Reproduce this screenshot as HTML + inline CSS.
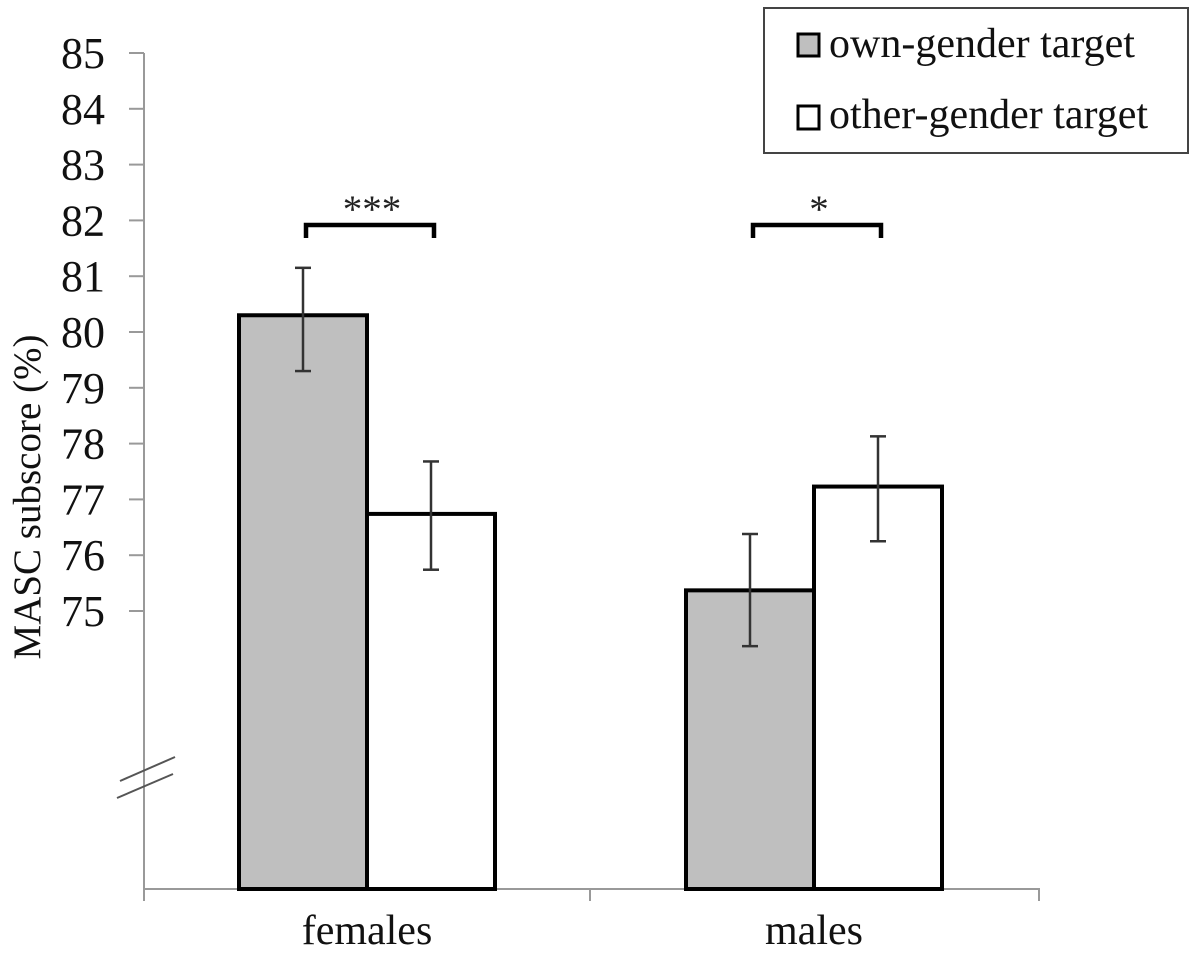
<!DOCTYPE html>
<html><head><meta charset="utf-8"><style>
html,body{margin:0;padding:0;background:#fff;}
svg{display:block;font-family:"Liberation Serif",serif;}
</style></head><body>
<svg id="chart" width="1198" height="963" viewBox="0 0 1198 963">
</svg>
<script>
const categories = ["females","males"];
const ownValues = [80.3, 75.37];
const ownErrHigh = [81.15, 76.38];
const ownErrLow = [79.3, 74.37];
const otherValues = [76.74, 77.23];
const otherErrHigh = [77.68, 78.13];
const otherErrLow = [75.74, 76.25];
const yTicks = [75,76,77,78,79,80,81,82,83,84,85];
const sigLabels = ["***","*"];

const NS = "http://www.w3.org/2000/svg";
const svg = document.getElementById("chart");
function mk(tag, attrs, parent){
  const e = document.createElementNS(NS, tag);
  for (const k in attrs) e.setAttribute(k, attrs[k]);
  (parent||svg).appendChild(e);
  return e;
}
const y = v => 53 + (85 - v) * 55.8;
const baseY = 889;
const axisX = 144;
const groupCenter = i => 367 + i * 447;
const barW = 128;

let e = mk("line",{x1:axisX,y1:53,x2:axisX,y2:baseY,stroke:"#999","stroke-width":2});


yTicks.forEach(t=>{
  const l = mk("line",{x1:axisX-15,y1:y(t),x2:axisX,y2:y(t),stroke:"#999","stroke-width":2});
  
  
  const tx = mk("text",{x:105,y:y(t)+15,"text-anchor":"end","font-size":44,fill:"#111"});
  tx.textContent = t;
  
  
});
e = mk("line",{x1:axisX,y1:baseY,x2:1040,y2:baseY,stroke:"#999","stroke-width":2});


[axisX, 590, 1039].forEach(x=>{
  const l = mk("line",{x1:x,y1:baseY,x2:x,y2:baseY+12,stroke:"#999","stroke-width":2});
  
  
});
e = mk("line",{x1:120,y1:781,x2:175,y2:757,stroke:"#555","stroke-width":2});


e = mk("line",{x1:117,y1:798,x2:173,y2:774,stroke:"#555","stroke-width":2});



e = mk("text",{x:0,y:0,transform:"translate(40,497) rotate(-90)","text-anchor":"middle","font-size":39,fill:"#111"});
e.textContent = "MASC subscore (%)";



categories.forEach((c,i)=>{
  const cx = groupCenter(i);
  let b = mk("rect",{x:cx-barW,y:y(ownValues[i]),width:barW,height:baseY-y(ownValues[i]),fill:"#bfbfbf",stroke:"#000","stroke-width":4});
  
  
  b = mk("rect",{x:cx,y:y(otherValues[i]),width:barW,height:baseY-y(otherValues[i]),fill:"#fff",stroke:"#000","stroke-width":4});
  
  
  [[cx-barW/2,ownErrHigh[i],ownErrLow[i],'own'],[cx+barW/2,otherErrHigh[i],otherErrLow[i],'other']].forEach(([x,h,l,n])=>{
    const g = mk("g",{stroke:"#333","stroke-width":2.5});
    
    
    mk("line",{x1:x,y1:y(h),x2:x,y2:y(l)},g);
    mk("line",{x1:x-8,y1:y(h),x2:x+8,y2:y(h)},g);
    mk("line",{x1:x-8,y1:y(l),x2:x+8,y2:y(l)},g);
  });
  const p = mk("path",{d:`M${cx-barW/2+3},${238} V${225} H${cx+barW/2+3} V${238}`,fill:"none",stroke:"#000","stroke-width":4.5});
  
  
  const s = mk("text",{x:cx+5,y:222,"text-anchor":"middle","font-size":39,fill:"#222"});
  s.textContent = sigLabels[i];
  
  
  const t = mk("text",{x:cx,y:944,"text-anchor":"middle","font-size":42,fill:"#111"});
  t.textContent = c;
  
  
});

const lg = mk("g",{});


mk("rect",{x:764,y:8,width:424,height:145,fill:"#fff",stroke:"#444","stroke-width":2},lg);
const l1 = mk("g",{},lg);


mk("rect",{x:798,y:34,width:21,height:22,fill:"#bfbfbf",stroke:"#000","stroke-width":3},l1);
let lt = mk("text",{x:829,y:57,"font-size":42,fill:"#111"},l1);
lt.textContent = "own-gender target";
const l2 = mk("g",{},lg);


mk("rect",{x:798,y:106,width:21,height:23,fill:"#fff",stroke:"#000","stroke-width":3},l2);
lt = mk("text",{x:829,y:128,"font-size":42,fill:"#111"},l2);
lt.textContent = "other-gender target";
</script>
</body></html>
